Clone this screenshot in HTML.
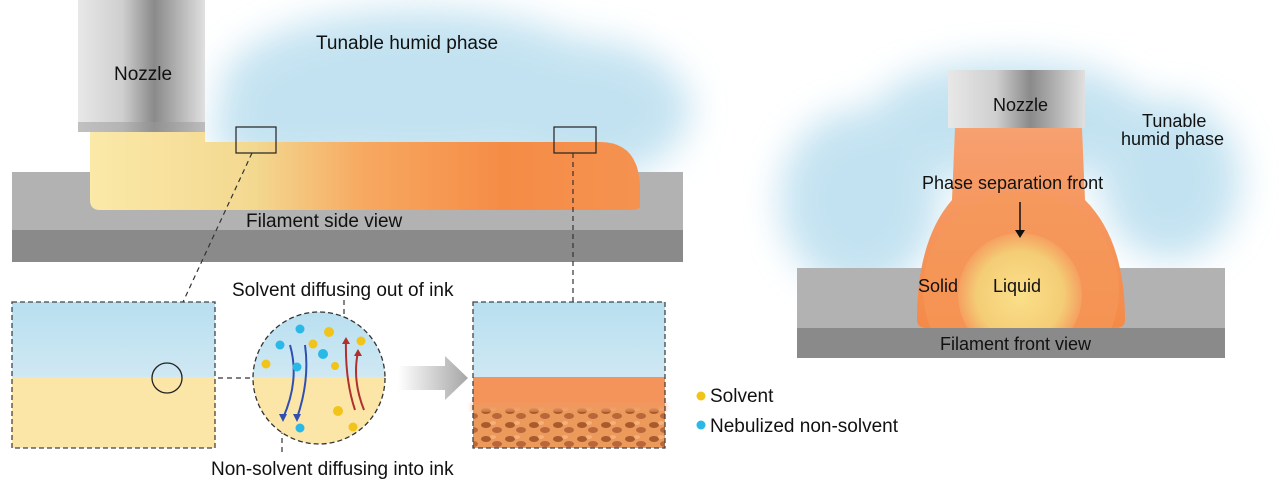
<!DOCTYPE html>
<html><head><meta charset="utf-8"><style>
html,body{margin:0;padding:0;background:#fff;width:1280px;height:481px;overflow:hidden}
svg{display:block}
text{font-family:"Liberation Sans",Arial,sans-serif;fill:#111}
</style></head><body>
<svg width="1280" height="481" viewBox="0 0 1280 481" xmlns="http://www.w3.org/2000/svg">
<defs>
<filter id="blur" x="-30%" y="-30%" width="160%" height="160%"><feGaussianBlur stdDeviation="18"/></filter>
<filter id="blur3"><feGaussianBlur stdDeviation="3"/></filter>
<linearGradient id="noz" x1="0" x2="1"><stop offset="0" stop-color="#e8e8e8"/><stop offset="0.35" stop-color="#cfcfcf"/><stop offset="0.6" stop-color="#8a8a8a"/><stop offset="0.8" stop-color="#b5b5b5"/><stop offset="1" stop-color="#e0e0e0"/></linearGradient>
<linearGradient id="fil" x1="0" x2="1"><stop offset="0" stop-color="#fbe9a8"/><stop offset="0.3" stop-color="#f3d890"/><stop offset="0.5" stop-color="#f7a860"/><stop offset="0.75" stop-color="#f58c46"/><stop offset="1" stop-color="#f59250"/></linearGradient>
<linearGradient id="sky" x1="0" y1="0" x2="0" y2="1"><stop offset="0" stop-color="#b8dff0"/><stop offset="1" stop-color="#cfe8f3"/></linearGradient>
<linearGradient id="arr" x1="0" x2="1"><stop offset="0" stop-color="#fff"/><stop offset="1" stop-color="#a6a6a6"/></linearGradient>
<linearGradient id="rf" x1="0" y1="0" x2="0" y2="1"><stop offset="0" stop-color="#f7a070"/><stop offset="1" stop-color="#f48a48"/></linearGradient>
<radialGradient id="liq"><stop offset="0" stop-color="#fbe08a"/><stop offset="0.7" stop-color="#f4cd76"/><stop offset="1" stop-color="#f5a060"/></radialGradient>
<pattern id="tex" width="24" height="14" patternUnits="userSpaceOnUse">
<rect width="24" height="14" fill="#eb9a5c"/>
<ellipse cx="6" cy="5" rx="5" ry="3" fill="#a85a2c"/><ellipse cx="17" cy="10" rx="5" ry="3" fill="#b8663a"/><ellipse cx="13" cy="3" rx="3" ry="2" fill="#f5b07a"/>
</pattern>
<clipPath id="cc"><circle cx="319" cy="378" r="66"/></clipPath>
<clipPath id="rfc"><path d="M955 128 H1082 L1085 200 Q1125 240 1125 320 Q1125 328 1115 328 H927 Q917 328 917 320 Q917 240 952 200 Z"/></clipPath>
</defs>

<g filter="url(#blur)" fill="#b5dcee" opacity="0.8">
<ellipse cx="420" cy="90" rx="200" ry="80"/>
<ellipse cx="580" cy="110" rx="110" ry="70"/>
<ellipse cx="300" cy="130" rx="90" ry="40"/>
</g>
<rect x="12" y="172" width="671" height="58" fill="#b2b2b2"/>
<rect x="12" y="230" width="671" height="32" fill="#8a8a8a"/>
<path d="M90 130 H205 V142 H600 Q640 142 640 190 V206 Q640 210 630 210 H100 Q90 210 90 200 Z" fill="url(#fil)"/>
<rect x="78" y="0" width="127" height="132" fill="url(#noz)"/>
<rect x="78" y="122" width="127" height="10" fill="#9a9a9a" opacity="0.5"/>
<text x="114" y="80" font-size="19">Nozzle</text>
<text x="316" y="49" font-size="19">Tunable humid phase</text>
<text x="246" y="227" font-size="19">Filament side view</text>
<rect x="236" y="127" width="40" height="26" fill="none" stroke="#222" stroke-width="1.2"/>
<rect x="554" y="127" width="42" height="26" fill="none" stroke="#222" stroke-width="1.2"/>
<g stroke="#333" stroke-width="1.2" stroke-dasharray="5,4" fill="none">
<line x1="252" y1="153" x2="183" y2="302"/>
<line x1="573" y1="153" x2="573" y2="302"/>
<line x1="182" y1="378" x2="253" y2="378"/>
<line x1="344" y1="300" x2="344" y2="318"/>
<line x1="282" y1="420" x2="282" y2="456"/>
</g>
<rect x="12" y="302" width="203" height="75" fill="url(#sky)"/>
<rect x="12" y="377" width="203" height="71" fill="#fbe6a8"/>
<rect x="12" y="302" width="203" height="146" fill="none" stroke="#444" stroke-width="1.3" stroke-dasharray="5,3"/>
<circle cx="167" cy="378" r="15" fill="none" stroke="#222" stroke-width="1.3"/>
<g clip-path="url(#cc)">
<rect x="250" y="310" width="140" height="67" fill="url(#sky)"/>
<rect x="250" y="377" width="140" height="70" fill="#fbe6a8"/>
</g>
<circle cx="319" cy="378" r="66" fill="none" stroke="#333" stroke-width="1.3" stroke-dasharray="5,3"/>
<g fill="none" stroke-width="2">
<path d="M290 345 Q300 380 283 418" stroke="#3050b0"/>
<path d="M305 345 Q310 380 297 418" stroke="#3050b0"/>
<path d="M355 410 Q345 380 346 340" stroke="#b03030"/>
<path d="M364 410 Q352 380 358 352" stroke="#b03030"/>
</g>
<g fill="#3050b0"><path d="M279 414 L287 414 L283 422Z"/><path d="M293 414 L301 414 L297 422Z"/></g>
<g fill="#b03030"><path d="M342 344 L350 344 L346 337Z"/><path d="M354 356 L362 356 L358 349Z"/></g>
<g fill="#2ab8e6"><circle cx="300" cy="329" r="4.5"/><circle cx="280" cy="345" r="4.5"/><circle cx="323" cy="354" r="5"/><circle cx="297" cy="367" r="4.5"/><circle cx="300" cy="428" r="4.5"/></g>
<g fill="#f2c318"><circle cx="329" cy="332" r="5"/><circle cx="313" cy="344" r="4.5"/><circle cx="361" cy="341" r="4.5"/><circle cx="266" cy="364" r="4.5"/><circle cx="335" cy="366" r="4"/><circle cx="338" cy="411" r="5"/><circle cx="353" cy="427" r="4.5"/></g>
<text x="232" y="296" font-size="19">Solvent diffusing out of ink</text>
<text x="211" y="475" font-size="19">Non-solvent diffusing into ink</text>
<path d="M398 366 H445 V356 L468 378 L445 400 V390 H398 Z" fill="url(#arr)"/>
<rect x="473" y="302" width="192" height="75" fill="url(#sky)"/>
<rect x="473" y="377" width="192" height="32" fill="#f4935a"/>
<rect x="473" y="405" width="192" height="43" fill="url(#tex)"/>
<rect x="473" y="403" width="192" height="8" fill="#ef9a60" filter="url(#blur3)"/>
<rect x="473" y="302" width="192" height="146" fill="none" stroke="#444" stroke-width="1.3" stroke-dasharray="5,3"/>
<circle cx="701" cy="396" r="4.5" fill="#f2c318"/>
<text x="710" y="402" font-size="19">Solvent</text>
<circle cx="701" cy="425" r="4.5" fill="#2ab8e6"/>
<text x="710" y="432" font-size="19">Nebulized non-solvent</text>

<g filter="url(#blur)" fill="#b5dcee" opacity="0.8">
<ellipse cx="860" cy="200" rx="80" ry="90"/>
<ellipse cx="1170" cy="180" rx="70" ry="80"/>
<ellipse cx="1010" cy="120" rx="140" ry="60"/>
</g>
<rect x="797" y="268" width="428" height="60" fill="#b2b2b2"/>
<rect x="797" y="328" width="428" height="30" fill="#8a8a8a"/>
<path d="M955 128 H1082 L1085 200 Q1125 240 1125 320 Q1125 328 1115 328 H927 Q917 328 917 320 Q917 240 952 200 Z" fill="url(#rf)"/>
<g clip-path="url(#rfc)">
<circle cx="1021" cy="290" r="98" fill="#f59a5a" opacity="0.6"/>
<circle cx="1020" cy="295" r="62" fill="url(#liq)"/>
</g>
<rect x="948" y="70" width="137" height="58" fill="url(#noz)"/>
<text x="993" y="111" font-size="18">Nozzle</text>
<text x="1142" y="127" font-size="18">Tunable</text>
<text x="1121" y="145" font-size="18">humid phase</text>
<text x="922" y="189" font-size="18">Phase separation front</text>
<line x1="1020" y1="202" x2="1020" y2="232" stroke="#111" stroke-width="1.5"/>
<path d="M1015 230 L1025 230 L1020 238Z" fill="#111"/>
<text x="918" y="292" font-size="18">Solid</text>
<text x="993" y="292" font-size="18">Liquid</text>
<text x="940" y="350" font-size="18">Filament front view</text>
</svg>
</body></html>
